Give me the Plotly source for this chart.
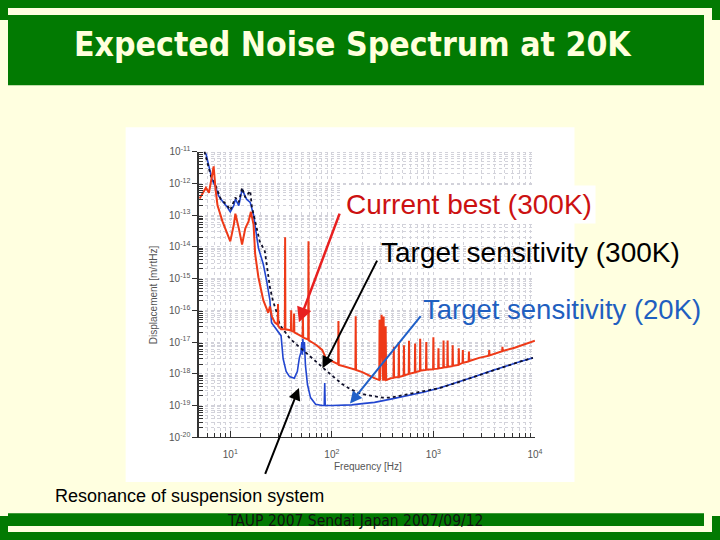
import numpy as np
import plotly.graph_objects as go

# ---------------- data (log10 units) ----------------
# Current best (300K) - red measured spectrum
red_log_f = [0.698, 0.73, 0.76, 0.79, 0.836, 0.855, 0.874, 0.923, 0.97, 1.0,
             1.035, 1.05, 1.084, 1.116, 1.148, 1.18, 1.203, 1.229, 1.245, 1.277,
             1.325, 1.374, 1.39, 1.41, 1.44, 1.467, 1.47, 1.473, 1.50, 1.537,
             1.54, 1.543, 1.58, 1.597, 1.60, 1.603, 1.625, 1.628, 1.631, 1.69,
             1.712, 1.715, 1.718, 1.767, 1.77, 1.773, 1.80, 1.85, 1.905, 1.94,
             2.0, 2.062, 2.065, 2.068, 2.1, 2.15, 2.2, 2.232, 2.235, 2.238,
             2.3, 2.36, 2.42, 2.467, 2.47, 2.475, 2.49, 2.505, 2.51, 2.515,
             2.53, 2.535, 2.58, 2.607, 2.61, 2.613, 2.657, 2.66, 2.663, 2.707,
             2.71, 2.713, 2.757, 2.76, 2.763, 2.817, 2.82, 2.823, 2.867, 2.87,
             2.873, 2.927, 2.93, 2.933, 2.997, 3.0, 3.003, 3.047, 3.05, 3.053,
             3.097, 3.10, 3.103, 3.137, 3.14, 3.143, 3.187, 3.19, 3.193, 3.247,
             3.25, 3.253, 3.287, 3.29, 3.293, 3.347, 3.35, 3.353, 3.45, 3.547,
             3.55, 3.553, 3.677, 3.68, 3.683, 3.8, 3.87, 3.93, 4.0]
red_log_d = [-12.48, -12.3, -12.14, -12.3, -11.47, -12.19, -12.69, -13.2, -13.6, -13.83,
             -13.3, -12.96, -13.42, -13.93, -13.42, -13.2, -12.9, -13.3, -14.23, -14.96,
             -15.68, -16.08, -15.88, -16.2, -16.39, -16.45, -15.8, -16.5, -16.6, -16.6,
             -13.7, -16.6, -16.62, -16.64, -16.0, -16.65, -16.68, -16.1, -16.7, -16.8,
             -16.84, -16.2, -16.86, -16.92, -13.83, -16.95, -17.0, -17.1, -17.25, -17.5,
             -17.6, -17.7, -16.34, -17.72, -17.75, -17.8, -17.85, -17.87, -16.19, -17.88,
             -17.95, -18.05, -18.14, -18.2, -16.3, -18.2, -16.14, -18.22, -16.2, -18.22,
             -16.5, -18.2, -18.14, -18.13, -17.15, -18.12, -18.1, -17.0, -18.1, -18.06,
             -17.1, -18.05, -18.01, -16.96, -18.0, -17.96, -17.05, -17.95, -17.91, -16.9,
             -17.9, -17.88, -17.0, -17.87, -17.86, -16.85, -17.85, -17.84, -17.2, -17.83,
             -17.81, -16.95, -17.8, -17.79, -16.95, -17.78, -17.76, -17.1, -17.75, -17.72,
             -17.2, -17.71, -17.66, -17.25, -17.65, -17.61, -17.3, -17.6, -17.5, -17.43,
             -17.25, -17.42, -17.29, -17.15, -17.28, -17.18, -17.11, -17.05, -16.96]

# Target sensitivity (300K) - black dotted
black_log_f = [0.746, 0.778, 0.81, 0.835, 0.858, 0.88, 0.906, 0.94, 0.97, 1.0,
               1.03, 1.05, 1.084, 1.116, 1.148, 1.196, 1.213, 1.26, 1.29, 1.34,
               1.357, 1.39, 1.42, 1.44, 1.46, 1.486, 1.53, 1.58, 1.63, 1.68,
               1.75, 1.81, 1.87, 1.937, 2.0, 2.066, 2.1, 2.18, 2.26, 2.34,
               2.42, 2.5, 2.58, 2.66, 2.74, 2.82, 2.9, 3.06, 3.22, 3.38,
               3.55, 3.7, 3.85, 3.98]
black_log_d = [-11.0, -11.37, -11.78, -11.9, -12.09, -12.3, -12.5, -12.6, -12.7, -12.85,
               -12.6, -12.45, -12.6, -12.14, -12.45, -12.24, -12.75, -13.42, -13.83, -14.14,
               -14.55, -15.27, -15.7, -15.9, -16.1, -16.45, -16.65, -16.86, -17.02, -17.17,
               -17.35, -17.52, -17.7, -17.88, -18.05, -18.22, -18.32, -18.48, -18.6, -18.67,
               -18.72, -18.75, -18.75, -18.71, -18.65, -18.6, -18.55, -18.45, -18.29, -18.12,
               -17.93, -17.77, -17.62, -17.5]

# Target sensitivity (20K) - blue
blue_log_f = [0.76, 0.79, 0.82, 0.86, 0.885, 0.93, 0.97, 1.0, 1.035, 1.05,
              1.084, 1.116, 1.16, 1.196, 1.229, 1.277, 1.325, 1.357, 1.39, 1.406,
              1.45, 1.50, 1.52, 1.55, 1.583, 1.63, 1.66, 1.68, 1.696, 1.705,
              1.71, 1.715, 1.72, 1.73, 1.74, 1.76, 1.79, 1.84, 1.905, 1.925,
              1.93, 1.935, 2.0, 2.1, 2.16, 2.195, 2.3, 2.42, 2.58, 2.74,
              2.9, 3.06, 3.22, 3.38, 3.55, 3.7, 3.85, 3.98]
blue_log_d = [-11.06, -11.5, -11.88, -12.15, -12.4, -12.6, -12.75, -12.9, -12.7, -12.5,
              -12.7, -12.19, -12.5, -12.6, -13.0, -14.04, -14.55, -15.06, -15.68, -16.39,
              -16.6, -16.8, -17.52, -17.93, -18.09, -18.14, -17.93, -17.5, -17.32, -17.0,
              -17.4, -16.9, -17.3, -17.0, -17.73, -18.34, -18.75, -18.96, -19.0, -19.0,
              -18.29, -19.0, -19.0, -19.0, -19.0, -18.98, -18.94, -18.9, -18.8, -18.7,
              -18.58, -18.45, -18.29, -18.12, -17.93, -17.77, -17.62, -17.5]

y_decades = list(range(-20, -10))          # 1e-20 ... 1e-11
x_decades = [1, 2, 3, 4]                   # 10 ... 1e4

# ---------------- figure ----------------
# the page adds an 8 px body margin, so the figure is 704x524 inside a 720x540 window
PAGE_W, PAGE_H, OFF = 720, 540, 8
W, H = PAGE_W - 2 * OFF, PAGE_H - 2 * OFF
def px(x):
    return (x - OFF) / W
def py(y):
    return 1 - (y - OFF) / H

GREEN = "#027A02"
CREAM = "#FFFFE0"

fig = go.Figure()
fig.add_trace(go.Scatter(x=10 ** np.array(blue_log_f), y=10 ** np.array(blue_log_d),
                         mode="lines", line=dict(color="#2246D0", width=1.6),
                         showlegend=False, hoverinfo="skip"))
fig.add_trace(go.Scatter(x=10 ** np.array(black_log_f), y=10 ** np.array(black_log_d),
                         mode="lines", line=dict(color="#10102A", width=1.8, dash="dot"),
                         showlegend=False, hoverinfo="skip"))
fig.add_trace(go.Scatter(x=10 ** np.array(red_log_f), y=10 ** np.array(red_log_d),
                         mode="lines", line=dict(color="#EE3A18", width=2.0),
                         showlegend=False, hoverinfo="skip"))

y_major = [10.0 ** k for k in y_decades]
y_minor = [m * 10.0 ** k for k in y_decades[:-1] for m in range(2, 10)]
x_major = [10.0 ** k for k in x_decades]
x_minor = [m * 10.0 ** k for k in [0] + x_decades[:-1] for m in range(2, 10) if m * 10.0 ** k >= 5]

grid_col = "#D2D2DA"
fig.update_xaxes(type="log", range=[0.69, 4.0], domain=[px(201), px(541)],
                 tickmode="array", tickvals=x_major,
                 ticktext=[f"10<sup>{k}</sup>" for k in x_decades],
                 ticks="inside", ticklen=6, tickcolor="#333", ticklabelstandoff=8,
                 showline=True, linecolor="#333", linewidth=1.2, mirror=False,
                 showgrid=True, gridcolor=grid_col, griddash="dot", gridwidth=1,
                 minor=dict(tickmode="array", tickvals=x_minor, ticks="inside", ticklen=4,
                            tickcolor="#333", showgrid=True, gridcolor=grid_col,
                            griddash="dot", gridwidth=1),
                 tickfont=dict(family="Liberation Sans", size=10, color="#555"),
                 zeroline=False)
fig.update_yaxes(type="log", range=[-20, -11], domain=[py(441), py(148)],
                 tickmode="array", tickvals=y_major,
                 ticktext=[f"10<sup>{k}</sup>" for k in y_decades],
                 ticks="outside", ticklen=5, tickcolor="#333",
                 showline=True, linecolor="#333", linewidth=1.5,
                 showgrid=True, gridcolor=grid_col, griddash="dot", gridwidth=1,
                 minor=dict(tickmode="array", tickvals=y_minor, ticks="inside", ticklen=4,
                            tickcolor="#333", showgrid=True, gridcolor=grid_col,
                            griddash="dot", gridwidth=1),
                 tickfont=dict(family="Liberation Sans", size=10, color="#555"),
                 zeroline=False)

shapes = [
    dict(type="rect", xref="paper", yref="paper", x0=0, x1=1, y0=py(80), y1=1,
         fillcolor=GREEN, line=dict(width=0), layer="below"),
    dict(type="rect", xref="paper", yref="paper", x0=0, x1=1, y0=0, y1=py(519),
         fillcolor=GREEN, line=dict(width=0), layer="below"),
    dict(type="rect", xref="paper", yref="paper", x0=px(127), x1=px(581), y0=py(487), y1=py(123),
         fillcolor="white", line=dict(width=0), layer="below"),
]

ann = []
# title and footer
ann.append(dict(text="<b>Expected Noise Spectrum at 20K</b>", xref="paper", yref="paper",
                x=px(357), y=py(38), xanchor="center", yanchor="middle", showarrow=False,
                font=dict(family="DejaVu Sans Condensed", size=33.5, color="#FFFFDD")))
ann.append(dict(text="TAUP 2007 Sendai Japan 2007/09/12", xref="paper", yref="paper",
                x=px(359), y=py(527), xanchor="center", yanchor="middle", showarrow=False,
                font=dict(family="DejaVu Sans Condensed", size=15.5, color="#111111")))
# axis titles
ann.append(dict(text="Displacement [m/rtHz]", xref="paper", yref="paper",
                x=px(156), y=py(295), xanchor="center", yanchor="middle", showarrow=False,
                textangle=-90, font=dict(family="Liberation Sans", size=10, color="#555")))
ann.append(dict(text="Frequency [Hz]", xref="paper", yref="paper",
                x=px(372), y=py(471), xanchor="center", yanchor="middle", showarrow=False,
                font=dict(family="Liberation Sans", size=10, color="#555")))
# callout texts
ann.append(dict(text="Current best (300K)", xref="paper", yref="paper",
                x=px(346), y=py(202), xanchor="left", yanchor="middle", showarrow=False,
                bgcolor="white", borderpad=3,
                font=dict(family="Liberation Sans", size=28, color="#CC1111")))
ann.append(dict(text="Target sensitivity (300K)", xref="paper", yref="paper",
                x=px(383), y=py(252), xanchor="left", yanchor="middle", showarrow=False,
                font=dict(family="Liberation Sans", size=28, color="#000000")))
ann.append(dict(text="Target sensitivity (20K)", xref="paper", yref="paper",
                x=px(426), y=py(310), xanchor="left", yanchor="middle", showarrow=False,
                font=dict(family="Liberation Sans", size=27.5, color="#1F5FC0")))
ann.append(dict(text="Resonance of suspension system", xref="paper", yref="paper",
                x=px(54), y=py(501), xanchor="left", yanchor="middle", showarrow=False,
                font=dict(family="Liberation Sans", size=18, color="#000000")))
# arrows (head in data coordinates, log10 units)
arrows = [
    (1.676, -16.38, 2.082, -12.91, "#E82020", 2.5),
    (1.908, -17.83, 2.453, -14.39, "#000000", 2.0),
    (2.179, -18.94, 2.887, -16.14, "#2060C8", 2.0),
    (1.676, -18.45, 1.338, -21.2, "#000000", 2.0),
]
for hx, hy, tx, ty, c, w in arrows:
    ann.append(dict(x=hx, y=hy, xref="x", yref="y", ax=tx, ay=ty, axref="x", ayref="y",
                    text="", showarrow=True, arrowhead=2, arrowsize=1.2, arrowwidth=w,
                    arrowcolor=c))

fig.update_layout(width=W, height=H, autosize=False,
                  margin=dict(l=0, r=0, t=0, b=0),
                  paper_bgcolor=CREAM, plot_bgcolor="white",
                  shapes=shapes, annotations=ann, showlegend=False, hovermode=False)

# colour the page's 8px frame like the slide (green bars at top/bottom, cream at the sides);
# the bands overlap the figure edges so no seam can show
frame_css = ("linear-gradient(to bottom, %s 0px, %s 20px, %s 20px, %s 516px, %s 516px, %s 540px)"
             % (GREEN, GREEN, CREAM, CREAM, GREEN, GREEN))
fig.write_html("out.html", config={"displayModeBar": False, "staticPlot": True},
               post_script="document.documentElement.style.background='%s';"
                           "document.documentElement.style.backgroundRepeat='no-repeat';"
                           "document.body.style.background='transparent';" % frame_css)
